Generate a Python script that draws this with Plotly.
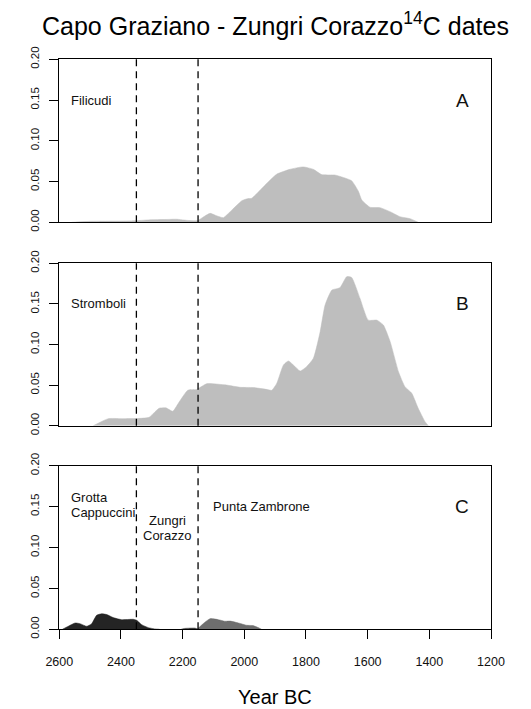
import plotly.graph_objects as go

# ---------------- data ----------------
fil_year = [2560, 2500, 2400, 2350, 2300, 2250, 2220, 2180, 2152, 2135, 2111, 2090, 2068,
            2046, 2008, 1990, 1976, 1938, 1895, 1852, 1809, 1776, 1749, 1706, 1679, 1652,
            1630, 1619, 1592, 1560, 1527, 1495, 1462, 1436]
fil_val = [0, 0.0012, 0.0015, 0.002, 0.0032, 0.0035, 0.0038, 0.0022, 0.002, 0.006, 0.011,
           0.008, 0.0057, 0.013, 0.0265, 0.029, 0.0295, 0.0437, 0.059, 0.065, 0.068, 0.065,
           0.0585, 0.058, 0.055, 0.051, 0.038, 0.0274, 0.0184, 0.018, 0.013, 0.0069, 0.0044, 0]

str_year = [2490, 2441, 2400, 2350, 2309, 2290, 2276, 2254, 2232, 2210, 2183, 2155, 2122,
            2057, 2014, 1971, 1925, 1911, 1895, 1873, 1857, 1841, 1819, 1798, 1776, 1754,
            1738, 1716, 1690, 1668, 1652, 1625, 1598, 1570, 1549, 1527, 1500, 1479, 1457,
            1436, 1414, 1403]
str_val = [0, 0.0087, 0.0087, 0.0088, 0.0103, 0.017, 0.0215, 0.022, 0.0178, 0.030, 0.0438,
           0.0446, 0.0517, 0.050, 0.0473, 0.047, 0.0445, 0.0436, 0.052, 0.0748, 0.0797,
           0.0748, 0.0674, 0.0727, 0.083, 0.1158, 0.1487, 0.167, 0.170, 0.1835, 0.1826,
           0.157, 0.130, 0.130, 0.124, 0.1035, 0.0665, 0.048, 0.040, 0.0214, 0.005, 0]

gc_year = [2590, 2571, 2549, 2533, 2511, 2495, 2479, 2463, 2446, 2425, 2398, 2360, 2349,
           2333, 2311, 2290, 2275]
gc_val = [0, 0.0037, 0.0077, 0.0069, 0.0037, 0.0069, 0.0171, 0.019, 0.018, 0.0143, 0.0118,
          0.0122, 0.011, 0.0057, 0.002, 0.0004, 0]

zc_year = [2205, 2195, 2160, 2150]
zc_val = [0, 0.001, 0.0015, 0]

pz_year = [2155, 2150, 2133, 2111, 2084, 2063, 2046, 2019, 1992, 1971, 1949, 1944]
pz_val = [0, 0.001, 0.007, 0.013, 0.0118, 0.0098, 0.010, 0.0077, 0.0049, 0.0045, 0.001, 0]

x_ticks = [2600, 2400, 2200, 2000, 1800, 1600, 1400, 1200]
y_ticks = [0.0, 0.05, 0.10, 0.15, 0.20]
phase_lines = [2350, 2150]

title_text = "Capo Graziano - Zungri Corazzo<sup>14</sup>C dates"
x_title = "Year BC"

# ---------------- layout helpers ----------------
OFF = 8  # page body margin
W, H = 531 - OFF, 709 - OFF
LEFT, RIGHT = 59.3 - OFF, 491.0 - OFF
panels = [(59.3 - OFF, 222.3 - OFF), (263.3 - OFF, 425.7 - OFF), (465.7 - OFF, 629.3 - OFF)]

FONT = "Liberation Sans, Arial, sans-serif"
TXT = "#111111"
GREY = "#BEBEBE"

fig = go.Figure()


def add_area(x, y, color, idx):
    fig.add_trace(go.Scatter(
        x=x, y=y, mode="lines", fill="tozeroy", fillcolor=color,
        line=dict(color=color, width=0.5, shape="spline", smoothing=0.5),
        xaxis="x" + ("" if idx == 1 else str(idx)),
        yaxis="y" + ("" if idx == 1 else str(idx)), showlegend=False, hoverinfo="skip"))


add_area(fil_year, fil_val, GREY, 1)
add_area(str_year, str_val, GREY, 2)
add_area(gc_year, gc_val, "#242424", 3)
add_area(zc_year, zc_val, "#444444", 3)
add_area(pz_year, pz_val, "#6E6E6E", 3)

layout = dict(
    width=W, height=H, autosize=False,
    template="none",
    margin=dict(l=0, r=0, t=0, b=0, pad=0),
    paper_bgcolor="white", plot_bgcolor="white",
    font=dict(family=FONT, color=TXT),
    showlegend=False,
)

shapes = []
annotations = []
for i, (top, bot) in enumerate(panels, start=1):
    sfx = "" if i == 1 else str(i)
    last = (i == 3)
    layout["xaxis" + sfx] = dict(
        domain=[LEFT / W, RIGHT / W], range=[2600, 1200], anchor="y" + sfx,
        automargin=False,
        showline=True, mirror=True, linecolor="black", linewidth=1.3,
        showgrid=False, zeroline=False,
        ticks="outside" if last else "", ticklen=9, tickwidth=1.3, tickcolor="black",
        tickvals=x_ticks, showticklabels=last, ticklabelstandoff=12,
        tickfont=dict(size=12.5, family=FONT, color=TXT),
    )
    layout["yaxis" + sfx] = dict(
        domain=[1 - bot / H, 1 - top / H], range=[0, 0.2], anchor="x" + sfx,
        automargin=False,
        showline=True, mirror=True, linecolor="black", linewidth=1.3,
        showgrid=False, zeroline=False,
        ticks="outside", ticklen=9, tickwidth=1.3, tickcolor="black",
        tickvals=y_ticks, tickformat=".2f", tickangle=-90, ticklabelstandoff=6,
        tickfont=dict(size=11.5, family=FONT, color=TXT),
    )
    for xv in phase_lines:
        shapes.append(dict(type="line", xref="x" + sfx, yref="y" + sfx + " domain",
                           x0=xv, x1=xv, y0=0, y1=1,
                           line=dict(color="black", width=1.3, dash="7px,5px")))


def txt(x, y, s, ax, size=13, anchor="left"):
    return dict(x=x, y=y, xref="x" + ax, yref="y" + ax, text=s, showarrow=False,
                xanchor=anchor, yanchor="middle", font=dict(size=size, color=TXT))


annotations += [
    txt(2568, 0.15, "Filicudi", ""),
    txt(1293, 0.15, "A", "", size=19, anchor="center"),
    txt(2568, 0.15, "Stromboli", "2"),
    txt(1293, 0.15, "B", "2", size=19, anchor="center"),
    txt(2568, 0.161, "Grotta", "3"),
    txt(2568, 0.1425, "Cappuccini", "3"),
    txt(2250, 0.1336, "Zungri", "3", anchor="center"),
    txt(2250, 0.1141, "Corazzo", "3", anchor="center"),
    txt(2107, 0.15, "Punta Zambrone", "3"),
    txt(1293, 0.15, "C", "3", size=19, anchor="center"),
    dict(x=(275.2 - OFF) / W, y=1 - (24 - OFF) / H, xref="paper", yref="paper",
         text=title_text, showarrow=False, xanchor="center", yanchor="middle",
         font=dict(size=25, color="black")),
    dict(x=(275.2 - OFF) / W, y=1 - (697 - OFF) / H, xref="paper", yref="paper",
         text=x_title, showarrow=False, xanchor="center", yanchor="middle",
         font=dict(size=20, color="black")),
]

layout["shapes"] = shapes
layout["annotations"] = annotations
fig.update_layout(**layout)

fig.write_html("out.html")
